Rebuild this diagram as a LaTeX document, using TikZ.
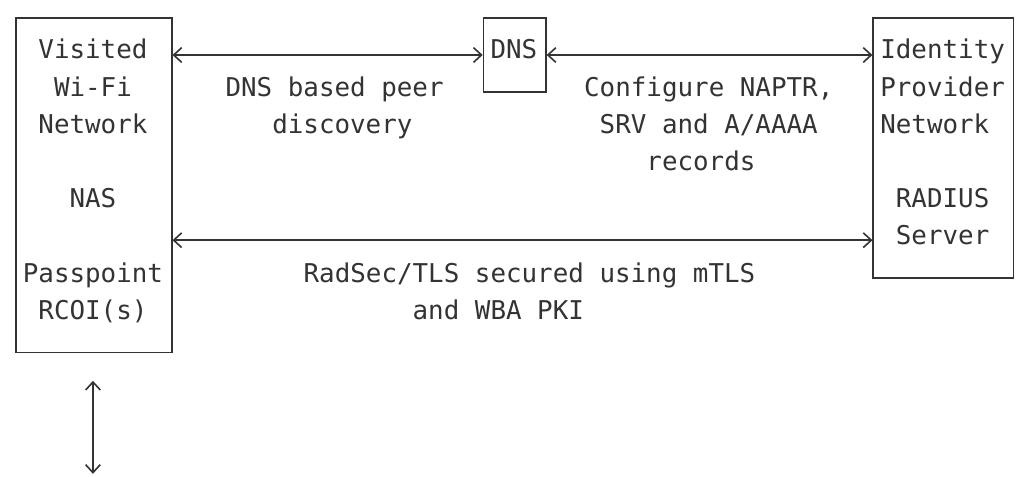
\documentclass[tikz,border=0pt]{standalone}
\usepackage{fontspec}
\setmonofont{DejaVu Sans Mono}
\usetikzlibrary{arrows.meta}
\definecolor{ink}{HTML}{333333}
\begin{document}
\begin{tikzpicture}[x=11.6925pt, y=-27.9pt,
  lbl/.style={inner sep=0pt, text height=0.70em, text depth=0pt,
    font=\ttfamily\fontsize{19.4}{23}\selectfont, text=ink},
  box/.style={draw=ink, line width=1.2pt, inner sep=0pt, anchor=north west},
  link/.style={draw=ink, line width=1.2pt,
    {Straight Barb[length=6pt,width=11pt]}-{Straight Barb[length=6pt,width=11pt]}}]
\useasboundingbox (-11.25pt,12.75pt) rectangle (757.5pt,-344.25pt);

% boxes
\node[box, minimum width=10*11.6925pt, minimum height=9*27.9pt] (vis) at (0,0) {};
\node[box, minimum width=4*11.6925pt, minimum height=2*27.9pt] (dns) at (30,0) {};
\node[box, minimum width=9*11.6925pt, minimum height=7*27.9pt] (idp) at (55,0) {};

% box texts
\node[lbl] (visited) at (5,1) {Visited};
\node[lbl] (wifi) at (5,2) {Wi-Fi};
\node[lbl] (vnet) at (5,3) {Network};
\node[lbl] (nas) at (5,5) {NAS};
\node[lbl] (pp) at (5,7) {Passpoint};
\node[lbl] (rcoi) at (5,8) {RCOI(s)};
\node[lbl] (dnst) at (32,1) {DNS};
\node[lbl] (ident) at (59.5,1) {Identity};
\node[lbl] (prov) at (59.5,2) {Provider};
\node[lbl] (inet) at (59,3) {Network};
\node[lbl] (rad) at (59.5,5) {RADIUS};
\node[lbl] (srv) at (59.5,6) {Server};

% connectors
\coordinate (r6) at (0,6);
\draw[link] (vis.east |- dns.center) -- (dns.west);
\draw[link] (dns.east) -- (idp.west |- dns.center);
\draw[link] (vis.east |- r6) -- (idp.west |- r6);
\coordinate (uT) at (5,9.78);
\coordinate (uB) at (5,12.28);
\draw[link] (uT) -- (uB);

% connector labels
\node[lbl] (l1a) at (20.5,2) {DNS based peer};
\node[lbl] (l1b) at (21,3) {discovery};
\node[lbl] (l2a) at (44.5,2) {Configure NAPTR,};
\node[lbl] (l2b) at (44.5,3) {SRV and A/AAAA};
\node[lbl] (l2c) at (44,4) {records};
\node[lbl] (l3a) at (33,7) {RadSec/TLS secured using mTLS};
\node[lbl] (l3b) at (31,8) {and WBA PKI};
\end{tikzpicture}
\end{document}
